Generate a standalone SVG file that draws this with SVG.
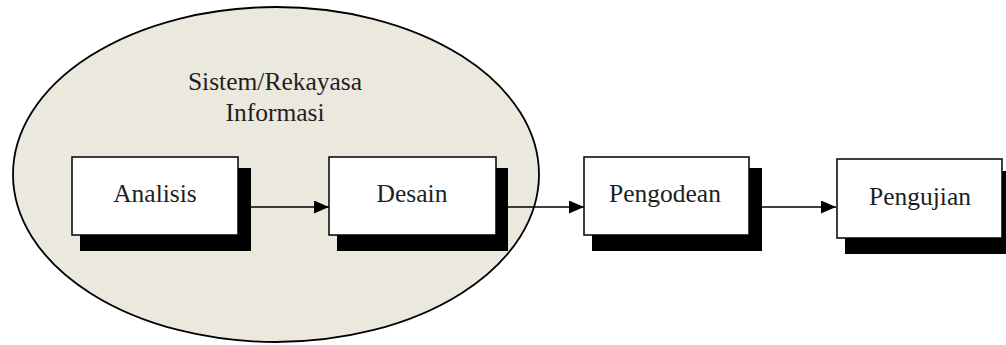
<svg xmlns="http://www.w3.org/2000/svg" width="1006" height="345" viewBox="0 0 1006 345">
<defs>
<style>
.box{fill:#fff;stroke:#000;stroke-width:1.5}
.shadow{fill:#000}
.lbl{font-family:"Liberation Serif","Times New Roman",serif;font-size:25.5px;fill:#1e1e1e;text-anchor:middle}
.conn{stroke:#000;stroke-width:1.6;fill:none}
</style>
<marker id="arr" markerWidth="15" markerHeight="13" refX="10" refY="5" orient="auto" markerUnits="userSpaceOnUse" viewBox="0 0 10 10" preserveAspectRatio="none">
<path d="M0,0 L10,5 L0,10 Z" fill="#000"/>
</marker>
</defs>
<rect width="1006" height="345" fill="#fff"/>
<g id="group-sistem">
<ellipse cx="276" cy="174.5" rx="263" ry="167.5" fill="#ebe8de" stroke="#000" stroke-width="1.8"/>
<text class="lbl" x="275" y="90">Sistem/Rekayasa</text>
<text class="lbl" x="275" y="121">Informasi</text>
</g>
<g id="connectors">
<line class="conn" x1="251" y1="207" x2="329" y2="207" marker-end="url(#arr)"/>
<line class="conn" x1="508" y1="207" x2="584" y2="207" marker-end="url(#arr)"/>
<line class="conn" x1="762" y1="207" x2="836" y2="207" marker-end="url(#arr)"/>
</g>
<g id="analisis">
<rect class="shadow" x="80" y="168" width="171" height="83"/>
<rect class="box" x="72" y="157" width="166" height="78"/>
<text class="lbl" x="155" y="202">Analisis</text>
</g>
<g id="desain">
<rect class="shadow" x="337" y="168" width="171" height="83"/>
<rect class="box" x="329" y="157" width="167" height="78"/>
<text class="lbl" x="412" y="202">Desain</text>
</g>
<g id="pengodean">
<rect class="shadow" x="592" y="168" width="170" height="83"/>
<rect class="box" x="584" y="157" width="165" height="78"/>
<text class="lbl" x="665" y="202">Pengodean</text>
</g>
<g id="pengujian">
<rect class="shadow" x="845" y="171" width="170" height="83"/>
<rect class="box" x="837" y="159" width="165" height="79"/>
<text class="lbl" x="920" y="205">Pengujian</text>
</g>
</svg>
